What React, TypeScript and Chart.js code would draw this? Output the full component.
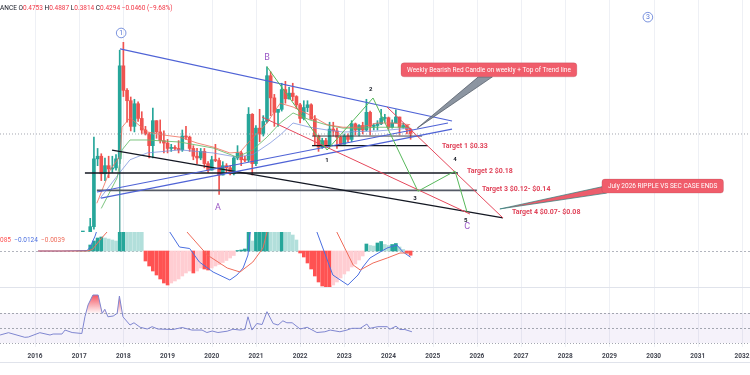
import React, { useEffect, useRef } from "react";
import { Chart, registerables } from "chart.js";

Chart.register(...registerables);

// ---------------- view ranges ----------------
const VIEW_START = 2015.208;
const VIEW_END = 2032.181;
const YEAR_TICKS = [2016, 2017, 2018, 2019, 2020, 2021, 2022, 2023, 2024, 2025, 2026, 2027, 2028, 2029, 2030, 2031, 2032];
const PRICE_MAX = 8.84;
const PRICE_MIN = 0.047;
const MACD_MAX = 0.038;
const MACD_MIN = -0.072;
const RSI_MAX = 104.7;
const RSI_MIN = 24.7;
const RSI_LEVELS = [70, 50, 30];
const SYMBOL = "BINANCE";

// ---------------- monthly candles ----------------
const MONTHS = [
  "2017-01", "2017-02", "2017-03", "2017-04", "2017-05", "2017-06", "2017-07", "2017-08", "2017-09", "2017-10", "2017-11", "2017-12",
  "2018-01", "2018-02", "2018-03", "2018-04", "2018-05", "2018-06", "2018-07", "2018-08", "2018-09", "2018-10", "2018-11", "2018-12",
  "2019-01", "2019-02", "2019-03", "2019-04", "2019-05", "2019-06", "2019-07", "2019-08", "2019-09", "2019-10", "2019-11", "2019-12",
  "2020-01", "2020-02", "2020-03", "2020-04", "2020-05", "2020-06", "2020-07", "2020-08", "2020-09", "2020-10", "2020-11", "2020-12",
  "2021-01", "2021-02", "2021-03", "2021-04", "2021-05", "2021-06", "2021-07", "2021-08", "2021-09", "2021-10", "2021-11", "2021-12",
  "2022-01", "2022-02", "2022-03", "2022-04", "2022-05", "2022-06", "2022-07", "2022-08", "2022-09", "2022-10", "2022-11", "2022-12",
  "2023-01", "2023-02", "2023-03", "2023-04", "2023-05", "2023-06", "2023-07", "2023-08", "2023-09", "2023-10", "2023-11", "2023-12",
  "2024-01", "2024-02", "2024-03", "2024-04", "2024-05", "2024-06", "2024-07",
];
const OPEN = [
  0.0065, 0.0063, 0.0064, 0.021, 0.053, 0.245, 0.26, 0.175, 0.21, 0.195, 0.2, 0.245,
  2.0, 1.15, 0.91, 0.51, 0.85, 0.61, 0.47, 0.43, 0.33, 0.58, 0.45, 0.37,
  0.35, 0.31, 0.315, 0.31, 0.3, 0.41, 0.4, 0.31, 0.26, 0.25, 0.29, 0.22,
  0.19, 0.24, 0.236, 0.17, 0.21, 0.2, 0.175, 0.25, 0.28, 0.24, 0.238, 0.67,
  0.22, 0.49, 0.43, 0.57, 1.6, 0.97, 0.7, 0.75, 1.17, 0.95, 1.08, 1.0,
  0.83, 0.61, 0.78, 0.83, 0.6, 0.41, 0.32, 0.37, 0.33, 0.48, 0.46, 0.4,
  0.34, 0.41, 0.38, 0.54, 0.47, 0.52, 0.47, 0.7, 0.51, 0.52, 0.54, 0.61,
  0.62, 0.5, 0.55, 0.63, 0.5, 0.52, 0.4753,
];
const HIGH = [
  0.0071, 0.0067, 0.035, 0.064, 0.4, 0.31, 0.275, 0.25, 0.26, 0.26, 0.27, 2.85,
  3.4, 1.2, 0.99, 0.94, 0.89, 0.71, 0.51, 0.44, 0.77, 0.58, 0.59, 0.46,
  0.38, 0.34, 0.33, 0.37, 0.47, 0.51, 0.41, 0.33, 0.31, 0.31, 0.31, 0.23,
  0.26, 0.34, 0.25, 0.23, 0.22, 0.21, 0.26, 0.33, 0.29, 0.26, 0.78, 0.68,
  0.52, 0.75, 0.65, 1.96, 1.75, 1.05, 0.75, 1.35, 1.41, 1.23, 1.35, 1.02,
  0.86, 0.91, 0.91, 0.85, 0.65, 0.42, 0.39, 0.39, 0.56, 0.56, 0.49, 0.41,
  0.43, 0.43, 0.58, 0.55, 0.53, 0.56, 0.94, 0.72, 0.54, 0.58, 0.75, 0.67,
  0.63, 0.59, 0.74, 0.63, 0.55, 0.52, 0.4887,
];
const LOW = [
  0.0059, 0.0058, 0.0059, 0.019, 0.05, 0.21, 0.15, 0.15, 0.16, 0.18, 0.19, 0.22,
  1.0, 0.56, 0.46, 0.45, 0.57, 0.43, 0.42, 0.25, 0.25, 0.39, 0.35, 0.28,
  0.28, 0.29, 0.3, 0.28, 0.29, 0.38, 0.29, 0.24, 0.22, 0.24, 0.2, 0.18,
  0.19, 0.23, 0.11, 0.17, 0.18, 0.17, 0.17, 0.24, 0.21, 0.23, 0.23, 0.17,
  0.21, 0.36, 0.41, 0.55, 0.65, 0.51, 0.51, 0.72, 0.86, 0.94, 0.91, 0.76,
  0.55, 0.59, 0.71, 0.6, 0.33, 0.29, 0.31, 0.32, 0.32, 0.41, 0.31, 0.33,
  0.34, 0.36, 0.36, 0.42, 0.41, 0.43, 0.46, 0.42, 0.47, 0.47, 0.53, 0.56,
  0.48, 0.49, 0.55, 0.42, 0.49, 0.43, 0.3814,
];
const CLOSE = [
  0.0063, 0.0064, 0.021, 0.053, 0.245, 0.26, 0.175, 0.21, 0.195, 0.2, 0.245, 2.0,
  1.15, 0.91, 0.51, 0.85, 0.61, 0.47, 0.43, 0.33, 0.58, 0.45, 0.37, 0.35,
  0.31, 0.315, 0.31, 0.3, 0.41, 0.4, 0.31, 0.26, 0.25, 0.29, 0.22, 0.19,
  0.24, 0.236, 0.17, 0.21, 0.2, 0.175, 0.25, 0.28, 0.24, 0.238, 0.67, 0.22,
  0.49, 0.43, 0.57, 1.6, 0.97, 0.7, 0.75, 1.17, 0.95, 1.08, 1.0, 0.83,
  0.61, 0.78, 0.83, 0.6, 0.41, 0.32, 0.37, 0.33, 0.48, 0.46, 0.4, 0.34,
  0.41, 0.38, 0.54, 0.47, 0.52, 0.47, 0.7, 0.51, 0.52, 0.54, 0.61, 0.62,
  0.5, 0.55, 0.63, 0.5, 0.52, 0.4754, 0.4294,
];

// ---------------- moving averages (year, price) ----------------
const MA_FAST = [
  [2017.4, 0.09], [2017.7, 0.19], [2017.92, 0.26], [2017.97, 0.5], [2018.15, 0.62], [2018.54, 0.45], [2018.9, 0.42],
  [2019.28, 0.4], [2019.67, 0.35], [2020.03, 0.32], [2020.41, 0.28], [2020.64, 0.285], [2020.87, 0.37], [2021.25, 0.55],
  [2021.48, 0.78], [2021.55, 0.86], [2021.84, 0.79], [2022.22, 0.66], [2022.61, 0.53], [2022.97, 0.5], [2023.36, 0.5],
  [2023.74, 0.55], [2024.1, 0.55], [2024.49, 0.53],
];
const MA_MID = [
  [2017.5, 0.08], [2017.86, 0.16], [2017.97, 0.3], [2018.15, 0.375], [2018.54, 0.375], [2019.28, 0.358], [2020.03, 0.313],
  [2020.57, 0.255], [2020.93, 0.3], [2021.25, 0.4], [2021.55, 0.55], [2021.84, 0.69], [2022.22, 0.59], [2022.61, 0.526],
  [2022.97, 0.49], [2023.36, 0.49], [2023.74, 0.5], [2024.49, 0.5],
];
const MA_SLOW = [
  [2017.47, 0.1], [2017.92, 0.18], [2018.15, 0.24], [2018.54, 0.28], [2019.28, 0.3], [2020.03, 0.28], [2020.57, 0.255],
  [2020.93, 0.27], [2021.32, 0.35], [2021.55, 0.42], [2021.84, 0.55], [2022.22, 0.5], [2022.61, 0.47], [2022.97, 0.449],
  [2023.74, 0.459], [2024.49, 0.49],
];

// ---------------- drawings (year, price) ----------------
const TREND_UPPER = [[2017.924, 2.93], [2025.437, 0.576]];
const TREND_RISE_A = [[2017.403, 0.116], [2025.346, 0.55]];
const TREND_RISE_B = [[2017.494, 0.101], [2025.437, 0.48]];
const BLACK_FALL = [[2017.743, 0.299], [2026.591, 0.0645]];
const LEVEL_T1 = [[2022.27, 0.33], [2024.89, 0.33]];
const LEVEL_BASE = [[2022.27, 0.41], [2024.76, 0.41]];
const LEVEL_T2 = [[2017.13, 0.178], [2025.57, 0.178]];
const LEVEL_T3 = [[2017.4, 0.12], [2026.0, 0.12]];
const RED_UPPER = [[2023.966, 0.789], [2026.591, 0.0645]];
const RED_LOWER = [[2021.137, 0.63], [2025.844, 0.0705]];
const WAVE_PATH = [[2021.25, 1.96], [2022.61, 0.299], [2023.65, 0.968], [2024.667, 0.118], [2025.505, 0.186], [2025.777, 0.0738]];
const WAVE1_MARK = [[2017.917, 0.3], [2017.917, 0.047]];

const WAVE_LABELS = ["1", "2", "3", "4", "5"];
const WAVE_LABEL_POS = [[2022.61, 0.234], [2023.6, 1.164], [2024.6, 0.101], [2025.505, 0.239], [2025.75, 0.0616]];
const ABC_LABELS = ["A", "B", "C"];
const ABC_POS = [[2020.14, 0.0808], [2021.25, 2.38], [2025.78, 0.0525]];
const CIRCLED = ["1", "3"];
const CIRCLED_POS = [[2017.95, 4.2], [2029.87, 6.0]];
const TARGET_TEXT = ["Target 1 $0.33", "Target 2 $0.18", "Target 3 $0.12- $0.14", "Target 4 $0.07- $0.08"];
const TARGET_POS = [[2025.21, 0.3276], [2025.777, 0.186], [2026.116, 0.124], [2026.795, 0.0728]];
const CALLOUT_TEXT = ["Weekly Bearish Red Candle on weekly + Top of Trend line", "July 2026 RIPPLE VS SEC CASE ENDS"];
const CALLOUT_BOX = [[2024.283, 2.14], [2028.83, 0.1552]];
const CALLOUT_TIP = [[2024.65, 0.49], [2026.52, 0.0791]];

// ---------------- MACD ----------------
const HIST = [
  0, 0, 0.001, 0.012, 0.02, 0.026, 0.028, 0.026, 0.024, 0.022, 0.02, 0.06,
  0.09, 0.085, 0.07, 0.06, 0.05, 0.04, -0.02, -0.03, -0.04, -0.048, -0.056, -0.064,
  -0.068, -0.064, -0.06, -0.056, -0.05, -0.044, -0.04, -0.044, -0.04, -0.034, -0.036, -0.038,
  -0.034, -0.03, -0.027, -0.023, -0.019, -0.014, -0.009, 0.001, 0.002, 0.004, 0.045, 0.02,
  0.045, 0.05, 0.055, 0.07, 0.065, 0.06, 0.055, 0.058, 0.05, 0.042, 0.032, 0.022,
  -0.004, -0.012, -0.024, -0.036, -0.05, -0.062, -0.07, -0.074, -0.075, -0.068, -0.062, -0.054,
  -0.046, -0.04, -0.032, -0.026, -0.018, -0.01, 0.014, 0.011, 0.01, 0.016, 0.019, 0.013,
  0.011, 0.013, 0.015, 0.008, 0.003, -0.004, -0.0085,
];
const MACD_LINE = [
  [2016.07, 0], [2016.6, 0], [2017.18, 0.001], [2017.25, 0.008], [2017.36, 0.03], [2017.47, 0.06], [2017.92, 0.2],
  [2018.1, 0.26], [2018.5, 0.16], [2018.8, 0.08], [2019.05, 0.038], [2019.27, 0.008], [2019.5, 0.005], [2019.72, -0.022],
  [2020.03, -0.042], [2020.41, -0.058], [2020.57, -0.048], [2020.71, -0.034], [2020.82, -0.008], [2020.86, 0.032],
  [2020.95, 0.08], [2021.3, 0.3], [2021.9, 0.15], [2022.38, 0.038], [2022.74, -0.048], [2023.08, -0.068], [2023.31, -0.048],
  [2023.42, -0.032], [2023.58, -0.014], [2023.81, -0.002], [2023.97, 0.006], [2024.19, 0.012], [2024.33, -0.002], [2024.5, -0.0124],
];
const SIGNAL_LINE = [
  [2016.07, 0], [2017.18, 0], [2017.3, 0.003], [2017.5, 0.025], [2017.75, 0.05], [2018.2, 0.18], [2018.9, 0.12],
  [2019.44, 0.038], [2019.9, -0.008], [2020.35, -0.034], [2020.64, -0.042], [2020.93, -0.022], [2021.16, 0.006],
  [2021.25, 0.038], [2021.5, 0.2], [2022.2, 0.15], [2022.83, 0.038], [2023.2, -0.028], [2023.36, -0.038], [2023.65, -0.024],
  [2023.97, -0.014], [2024.26, -0.004], [2024.5, -0.0039],
];

// ---------------- RSI ----------------
const RSI_T = [
  2015.21, 2015.4, 2015.77, 2015.85, 2016.11, 2016.34, 2016.41, 2016.61, 2016.68, 2016.84,
  2017.06, 2017.13, 2017.2, 2017.31, 2017.43, 2017.52, 2017.58, 2017.65, 2017.77, 2017.86, 2017.91, 2017.99,
  2018.15, 2018.24, 2018.38, 2018.54, 2018.65, 2018.78, 2019.12, 2019.33, 2019.55, 2019.78, 2019.89,
  2020.01, 2020.14, 2020.35, 2020.48, 2020.64, 2020.75, 2020.82, 2020.91, 2021.02, 2021.14, 2021.25, 2021.39,
  2021.5, 2021.61, 2021.7, 2021.82, 2022.0, 2022.16, 2022.38, 2022.56, 2022.68, 2022.9, 2023.06, 2023.17,
  2023.36, 2023.51, 2023.58, 2023.76, 2023.97, 2024.03, 2024.17, 2024.26, 2024.37, 2024.53,
];
const RSI_V = [
  40.7, 43.8, 37.6, 38, 43.8, 40.7, 42, 42, 47.3, 44,
  42.7, 65, 80.7, 94, 94, 69.6, 75, 65, 66, 69.6, 92.7, 65,
  54, 57, 51, 48.7, 51.8, 48.7, 48, 50.7, 47.3, 47.3, 44,
  46, 44, 45.8, 48.4, 47.3, 48, 65, 47.3, 56, 54.7, 71.8, 56,
  54, 59.6, 57, 57, 48.7, 51, 44, 45, 47.3, 45, 47.3, 49.6,
  49.6, 55.3, 49.6, 51.8, 51.8, 48.4, 52.4, 48, 48, 45,
];

// ---------------- helpers ----------------
const FONT = "Roboto, 'Noto Sans', Arial, sans-serif";
const UP = "#26a69a";
const DOWN = "#ef5350";
const monthX = (m: string) => Number(m.slice(0, 4)) + (Number(m.slice(5, 7)) - 1) / 12;
const toPts = (arr: number[][]) => arr.map(([x, y]) => ({ x, y }));
const fmt4 = (v: number) => (v < 0 ? "\u2212" : "") + Math.abs(v).toFixed(4);
const candleColor = (i: number) => (CLOSE[i] >= OPEN[i] ? UP : DOWN);
const histColor = (i: number) => {
  const v = HIST[i];
  const p = i > 0 ? HIST[i - 1] : 0;
  if (v >= 0) return v >= p ? "#26a69a" : "#b2dfdb";
  return v <= p ? "#ff5252" : "#ffcdd2";
};

const lineDs = (data: number[][], color: string, width: number, order: number, dash: number[] = []) => ({
  type: "line",
  data: toPts(data),
  borderColor: color,
  borderWidth: width,
  borderDash: dash,
  pointRadius: 0,
  fill: false,
  tension: 0,
  order,
});

const baseOptions = (y: any, padding: any = 0) => ({
  responsive: false,
  animation: false,
  events: [],
  layout: { padding },
  plugins: { legend: { display: false }, tooltip: { enabled: false } },
  scales: {
    x: { type: "linear", min: VIEW_START, max: VIEW_END, display: false, offset: false },
    y,
  },
});

function yearGrid(chart: any) {
  const { ctx, chartArea, scales } = chart;
  ctx.save();
  ctx.strokeStyle = "#eef0f5";
  ctx.lineWidth = 1;
  for (const yr of YEAR_TICKS) {
    const x = Math.round(scales.x.getPixelForValue(yr)) + 0.5;
    ctx.beginPath();
    ctx.moveTo(x, chartArea.top);
    ctx.lineTo(x, chartArea.bottom);
    ctx.stroke();
  }
  ctx.restore();
}

function roundRect(ctx: CanvasRenderingContext2D, x: number, y: number, w: number, h: number, r: number) {
  ctx.beginPath();
  ctx.moveTo(x + r, y);
  ctx.lineTo(x + w - r, y);
  ctx.quadraticCurveTo(x + w, y, x + w, y + r);
  ctx.lineTo(x + w, y + h - r);
  ctx.quadraticCurveTo(x + w, y + h, x + w - r, y + h);
  ctx.lineTo(x + r, y + h);
  ctx.quadraticCurveTo(x, y + h, x, y + h - r);
  ctx.lineTo(x, y + r);
  ctx.quadraticCurveTo(x, y, x + r, y);
  ctx.closePath();
}

const CALLOUT_STYLE = [
  { base: [[0.44, 1], [0.52, 1]], fill: "rgba(120,130,145,0.85)", edge: "#4a5360" },
  { base: [[0, 0.55], [0.04, 1]], fill: "#ec5d6c", edge: "#2e7d7a" },
];

const pricePlugin = {
  id: "priceOverlay",
  beforeDatasetsDraw(chart: any) {
    yearGrid(chart);
  },
  afterDatasetsDraw(chart: any) {
    const ctx: CanvasRenderingContext2D = chart.ctx;
    const X = (v: number) => chart.scales.x.getPixelForValue(v);
    const Y = (v: number) => chart.scales.y.getPixelForValue(v);
    ctx.save();
    ctx.textBaseline = "middle";

    // wave numbers
    ctx.textAlign = "center";
    ctx.font = `bold 6px ${FONT}`;
    ctx.fillStyle = "#131722";
    WAVE_LABELS.forEach((t, i) => ctx.fillText(t, X(WAVE_LABEL_POS[i][0]), Y(WAVE_LABEL_POS[i][1])));

    // A B C
    ctx.font = `9px ${FONT}`;
    ctx.fillStyle = "#9b59c6";
    ABC_LABELS.forEach((t, i) => ctx.fillText(t, X(ABC_POS[i][0]), Y(ABC_POS[i][1])));

    // circled labels
    CIRCLED.forEach((t, i) => {
      const cx = X(CIRCLED_POS[i][0]);
      const cy = Y(CIRCLED_POS[i][1]);
      ctx.strokeStyle = "#5a78d6";
      ctx.lineWidth = 0.8;
      ctx.beginPath();
      ctx.arc(cx, cy, 4.8, 0, Math.PI * 2);
      ctx.stroke();
      ctx.fillStyle = "#5a78d6";
      ctx.font = `7px ${FONT}`;
      ctx.fillText(t, cx, cy + 0.3);
    });

    // targets
    ctx.textAlign = "left";
    ctx.font = `bold 7px ${FONT}`;
    ctx.fillStyle = "#e0445a";
    TARGET_TEXT.forEach((t, i) => ctx.fillText(t, X(TARGET_POS[i][0]), Y(TARGET_POS[i][1])));

    // callouts
    CALLOUT_TEXT.forEach((t, i) => {
      ctx.font = `6.5px ${FONT}`;
      const w = ctx.measureText(t).width + 12;
      const h = 14;
      const bx = X(CALLOUT_BOX[i][0]);
      const by = Y(CALLOUT_BOX[i][1]);
      const tx = X(CALLOUT_TIP[i][0]);
      const ty = Y(CALLOUT_TIP[i][1]);
      const st = CALLOUT_STYLE[i];
      ctx.beginPath();
      ctx.moveTo(bx + st.base[0][0] * w, by + st.base[0][1] * h);
      ctx.lineTo(tx, ty);
      ctx.lineTo(bx + st.base[1][0] * w, by + st.base[1][1] * h);
      ctx.closePath();
      ctx.fillStyle = st.fill;
      ctx.fill();
      ctx.strokeStyle = st.edge;
      ctx.lineWidth = 0.7;
      ctx.stroke();
      roundRect(ctx, bx, by, w, h, 3);
      ctx.fillStyle = "#f05d6b";
      ctx.fill();
      ctx.strokeStyle = "rgba(150,60,70,0.35)";
      ctx.lineWidth = 0.6;
      ctx.stroke();
      ctx.fillStyle = "#ffffff";
      ctx.textAlign = "center";
      ctx.fillText(t, bx + w / 2, by + h / 2 + 0.3);
      ctx.textAlign = "left";
    });

    // header OHLC
    const n = CLOSE.length;
    const o = OPEN[n - 1], hi = HIGH[n - 1], lo = LOW[n - 1], c = CLOSE[n - 1];
    const chg = c - CLOSE[n - 2];
    const pct = (chg / CLOSE[n - 2]) * 100;
    const dark = "#131722";
    const red = "#f23645";
    const parts: [string, string][] = [
      [SYMBOL, dark], [" O", dark], [o.toFixed(4), red], [" H", dark], [hi.toFixed(4), red],
      [" L", dark], [lo.toFixed(4), red], [" C", dark], [c.toFixed(4), red],
      [" " + fmt4(chg) + " (" + (pct < 0 ? "\u2212" : "") + Math.abs(pct).toFixed(2) + "%)", red],
    ];
    ctx.font = `6.5px ${FONT}`;
    let x = -ctx.measureText(SYMBOL.slice(0, 3)).width;
    parts.forEach(([t, col]) => {
      ctx.fillStyle = col;
      ctx.fillText(t, x, 8);
      x += ctx.measureText(t).width;
    });
    ctx.restore();
  },
};

const macdPlugin = {
  id: "macdOverlay",
  beforeDatasetsDraw(chart: any) {
    yearGrid(chart);
    const { ctx, chartArea, scales } = chart;
    const y0 = Math.round(scales.y.getPixelForValue(0)) + 0.5;
    ctx.save();
    ctx.strokeStyle = "#b2b5be";
    ctx.setLineDash([2, 2]);
    ctx.lineWidth = 1;
    ctx.beginPath();
    ctx.moveTo(chartArea.left, y0);
    ctx.lineTo(chartArea.right, y0);
    ctx.stroke();
    ctx.restore();
  },
  afterDraw(chart: any) {
    const ctx: CanvasRenderingContext2D = chart.ctx;
    const n = HIST.length;
    const vals: [number, string][] = [
      [HIST[n - 1], histColor(n - 1)],
      [MACD_LINE[MACD_LINE.length - 1][1], "#4a6fe0"],
      [SIGNAL_LINE[SIGNAL_LINE.length - 1][1], "#ef6c5a"],
    ];
    ctx.save();
    ctx.font = `6.5px ${FONT}`;
    ctx.textBaseline = "middle";
    ctx.textAlign = "left";
    const first = fmt4(vals[0][0]);
    let x = -ctx.measureText(first.slice(0, 4)).width;
    vals.forEach(([v, col]) => {
      const t = fmt4(v);
      ctx.fillStyle = col;
      ctx.fillText(t, x, 8);
      x += ctx.measureText(t + "  ").width;
    });
    ctx.restore();
  },
};

const rsiPlugin = {
  id: "rsiOverlay",
  beforeDatasetsDraw(chart: any) {
    yearGrid(chart);
    const { ctx, chartArea, scales } = chart;
    const yTop = scales.y.getPixelForValue(RSI_LEVELS[0]);
    const yBot = scales.y.getPixelForValue(RSI_LEVELS[2]);
    ctx.save();
    ctx.fillStyle = "rgba(126,87,194,0.08)";
    ctx.fillRect(chartArea.left, yTop, chartArea.right - chartArea.left, yBot - yTop);
    ctx.strokeStyle = "#a3a6b0";
    ctx.lineWidth = 1;
    RSI_LEVELS.forEach((lv, i) => {
      const y = Math.round(scales.y.getPixelForValue(lv)) + 0.5;
      ctx.setLineDash(i === 2 ? [1, 2] : [2, 2]);
      ctx.beginPath();
      ctx.moveTo(chartArea.left, y);
      ctx.lineTo(chartArea.right, y);
      ctx.stroke();
    });
    ctx.restore();
  },
  afterDraw(chart: any) {
    const { ctx, chartArea, scales } = chart;
    ctx.save();
    ctx.strokeStyle = "#e0e3eb";
    ctx.lineWidth = 1;
    [0.5, chartArea.bottom + 15.5].forEach((y: number) => {
      ctx.beginPath();
      ctx.moveTo(0, y);
      ctx.lineTo(chart.width, y);
      ctx.stroke();
    });
    ctx.font = `bold 6.5px ${FONT}`;
    ctx.fillStyle = "#434651";
    ctx.textAlign = "center";
    ctx.textBaseline = "middle";
    YEAR_TICKS.forEach((yr) => ctx.fillText(String(yr), scales.x.getPixelForValue(yr), chartArea.bottom + 9));
    ctx.restore();
  },
};

function priceConfig(): any {
  const last = CLOSE[CLOSE.length - 1];
  return {
    type: "bar",
    data: {
      datasets: [
        {
          type: "bar",
          data: MONTHS.map((m, i) => ({ x: monthX(m), y: [LOW[i], HIGH[i]] })),
          backgroundColor: (c: any) => candleColor(c.dataIndex),
          barThickness: 1,
          maxBarThickness: 1,
          grouped: false,
          borderWidth: 0,
          order: 31,
        },
        {
          type: "bar",
          data: MONTHS.map((m, i) => ({ x: monthX(m), y: [OPEN[i], CLOSE[i]] })),
          backgroundColor: (c: any) => candleColor(c.dataIndex),
          barThickness: 3,
          maxBarThickness: 3,
          grouped: false,
          borderWidth: 0,
          minBarLength: 1,
          order: 30,
        },
        lineDs(MA_SLOW, "rgba(120,144,220,0.75)", 1, 22),
        lineDs(MA_MID, "rgba(102,187,106,0.85)", 1, 21),
        lineDs(MA_FAST, "rgba(239,108,90,0.8)", 1, 20),
        lineDs([[VIEW_START, last], [VIEW_END, last]], "#a3a6b0", 1, 15, [1, 2]),
        lineDs(WAVE1_MARK, "#5aa9a0", 1, 14),
        lineDs(LEVEL_T3, "#555a66", 1.8, 10),
        lineDs(LEVEL_T2, "#131722", 1.3, 9),
        lineDs(LEVEL_T1, "#131722", 1.3, 8),
        lineDs(LEVEL_BASE, "#3c404a", 1, 8),
        lineDs(BLACK_FALL, "#131722", 1.3, 7),
        lineDs(TREND_UPPER, "#4f63d6", 1.2, 6),
        lineDs(TREND_RISE_A, "#4f63d6", 1.2, 6),
        lineDs(TREND_RISE_B, "#4f63d6", 1.2, 6),
        lineDs(RED_LOWER, "#e5475b", 1, 5),
        lineDs(RED_UPPER, "#e5475b", 1, 5),
        lineDs(WAVE_PATH, "#56b85a", 1, 4),
      ],
    },
    options: baseOptions({ type: "logarithmic", min: PRICE_MIN, max: PRICE_MAX, display: false }),
    plugins: [pricePlugin],
  };
}

function macdConfig(): any {
  return {
    type: "bar",
    data: {
      datasets: [
        {
          type: "bar",
          data: MONTHS.map((m, i) => ({ x: monthX(m), y: HIST[i] })),
          backgroundColor: (c: any) => histColor(c.dataIndex),
          barThickness: 3,
          maxBarThickness: 3,
          grouped: false,
          borderWidth: 0,
          order: 5,
        },
        lineDs(MACD_LINE, "#4a6fe0", 1, 2),
        lineDs(SIGNAL_LINE, "#ef6c5a", 1, 1),
      ],
    },
    options: baseOptions({ type: "linear", min: MACD_MIN, max: MACD_MAX, display: false }),
    plugins: [macdPlugin],
  };
}

function rsiConfig(): any {
  return {
    type: "line",
    data: {
      datasets: [
        {
          type: "line",
          data: RSI_T.map((t, i) => ({ x: t, y: RSI_V[i] })),
          borderColor: "#7f86d0",
          borderWidth: 1,
          pointRadius: 0,
          tension: 0,
          fill: { target: { value: RSI_LEVELS[0] }, below: "rgba(0,0,0,0)" },
          backgroundColor: (c: any) => {
            const chart = c.chart;
            const area = chart.chartArea;
            if (!area) return "rgba(242,54,69,0.4)";
            const y = chart.scales.y;
            const g = chart.ctx.createLinearGradient(0, y.getPixelForValue(96), 0, y.getPixelForValue(RSI_LEVELS[0]));
            g.addColorStop(0, "rgba(242,54,69,0.9)");
            g.addColorStop(1, "rgba(242,54,69,0.05)");
            return g;
          },
        },
      ],
    },
    options: baseOptions({ type: "linear", min: RSI_MIN, max: RSI_MAX, display: false }, { top: 0, left: 0, right: 0, bottom: 28 }),
    plugins: [rsiPlugin],
  };
}

export default function App() {
  const priceRef = useRef<HTMLCanvasElement>(null);
  const macdRef = useRef<HTMLCanvasElement>(null);
  const rsiRef = useRef<HTMLCanvasElement>(null);

  useEffect(() => {
    const charts = [
      new Chart(priceRef.current as HTMLCanvasElement, priceConfig()),
      new Chart(macdRef.current as HTMLCanvasElement, macdConfig()),
      new Chart(rsiRef.current as HTMLCanvasElement, rsiConfig()),
    ];
    return () => charts.forEach((c) => c.destroy());
  }, []);

  return (
    <div style={{ position: "fixed", left: 0, top: 0, width: 750, height: 375, background: "#ffffff", overflow: "hidden" }}>
      <canvas ref={priceRef} width={750} height={232} style={{ position: "absolute", left: 0, top: 0, width: 750, height: 232 }} />
      <canvas ref={macdRef} width={750} height={55} style={{ position: "absolute", left: 0, top: 232, width: 750, height: 55 }} />
      <canvas ref={rsiRef} width={750} height={88} style={{ position: "absolute", left: 0, top: 287, width: 750, height: 88 }} />
    </div>
  );
}
